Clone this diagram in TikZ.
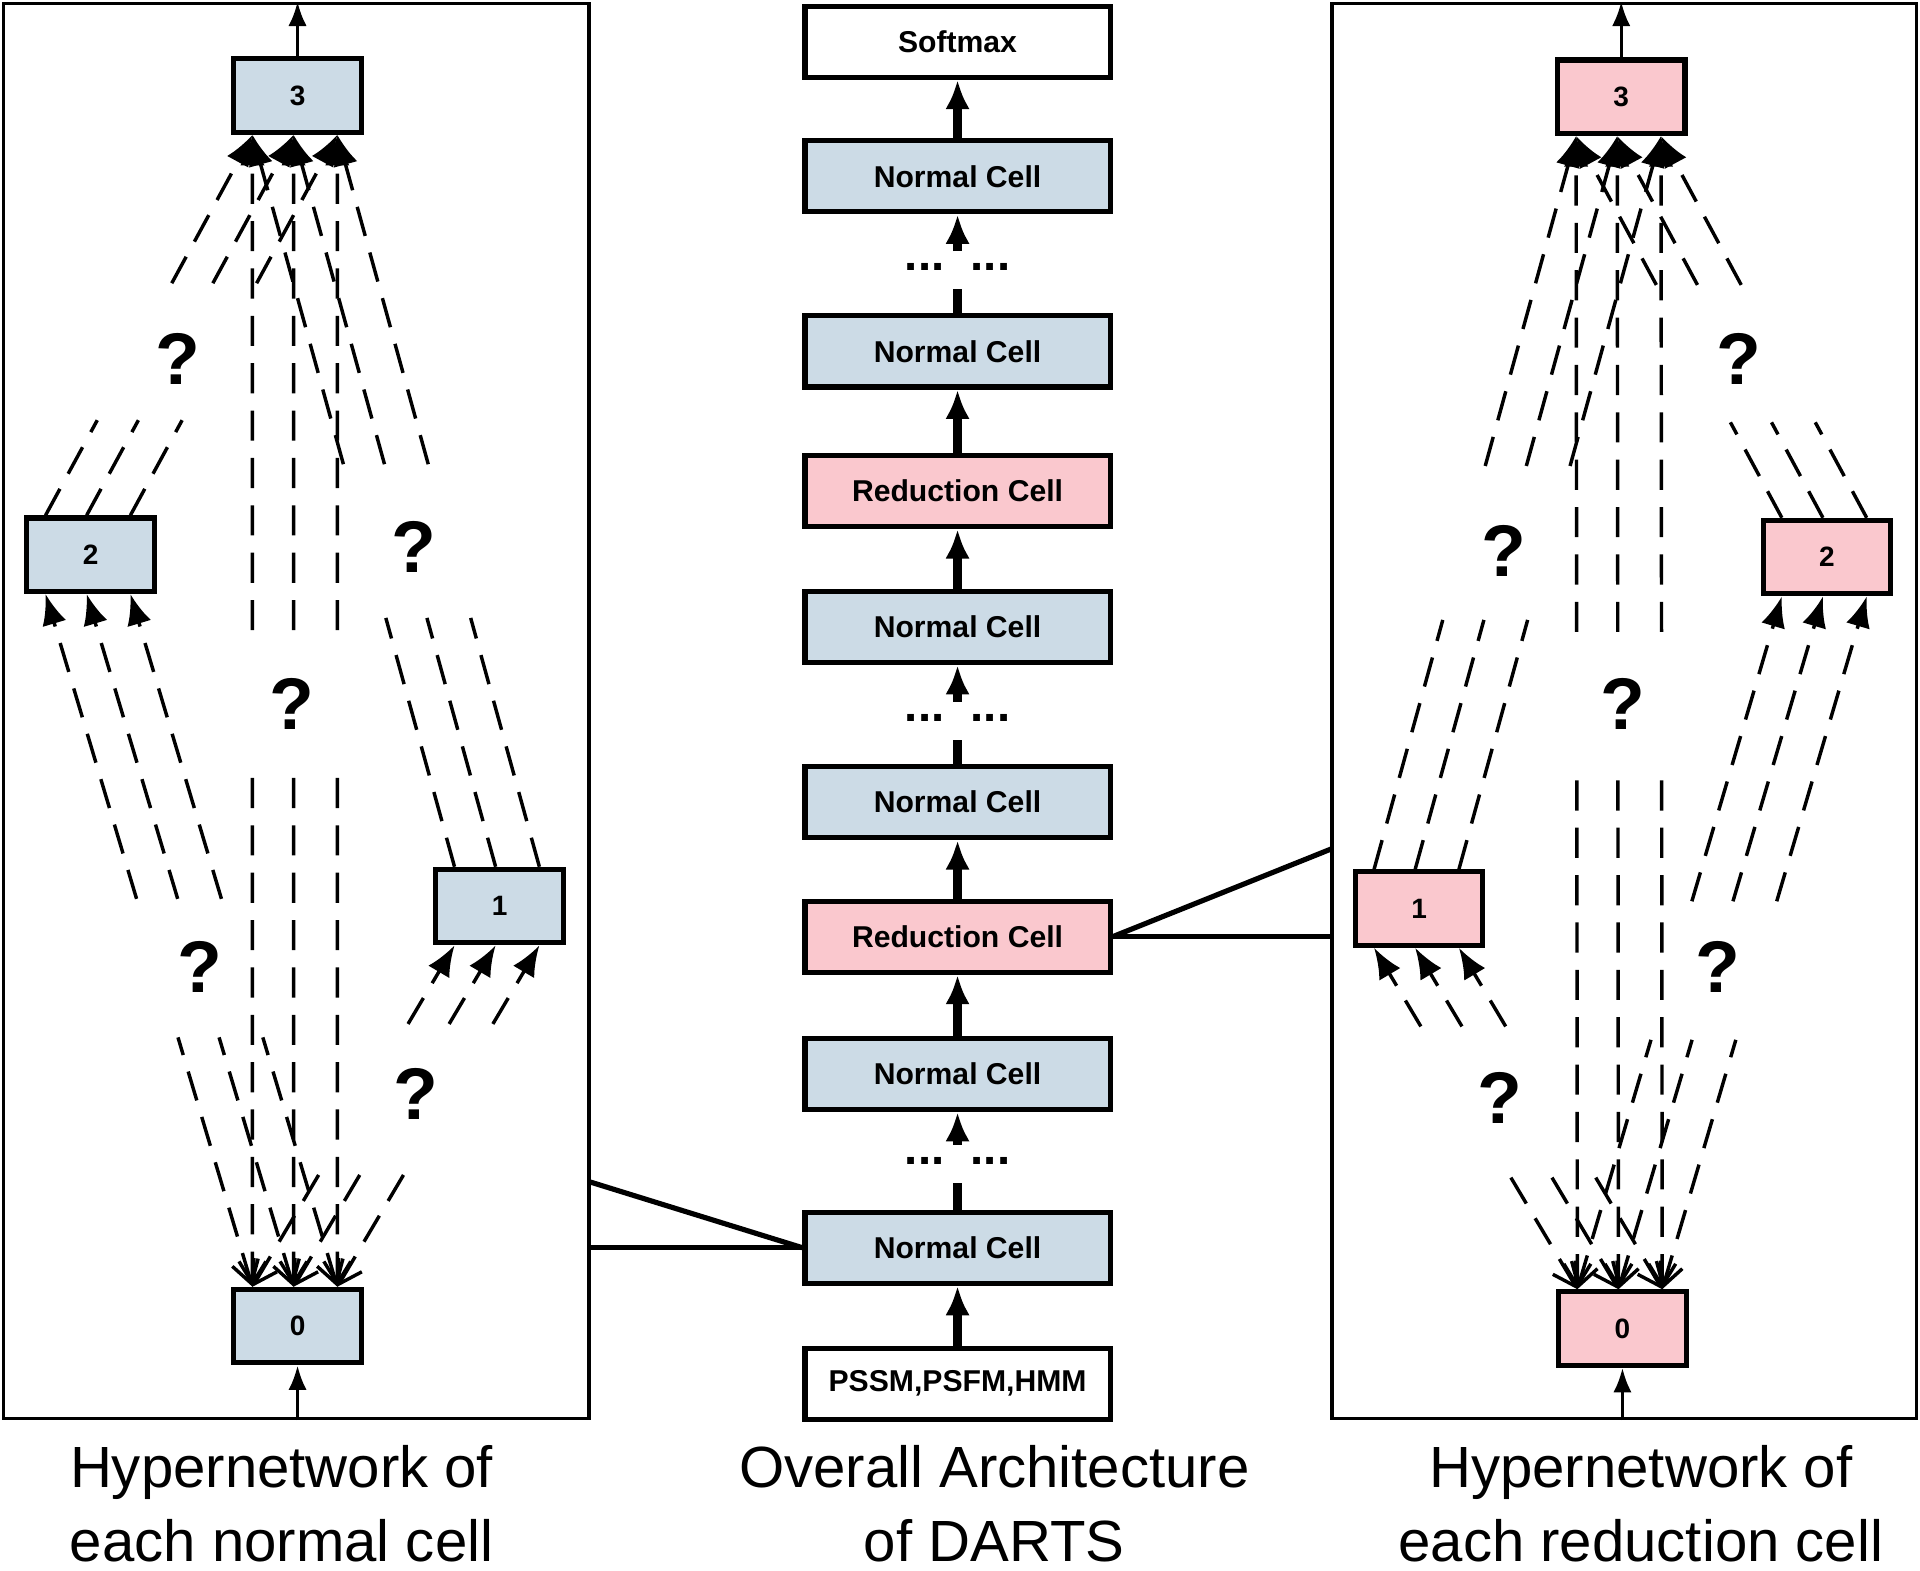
\documentclass[tikz,border=0pt]{standalone}
\usepackage{fontspec}
\setmainfont{Liberation Sans}
\usetikzlibrary{arrows.meta,calc}
\definecolor{normblue}{RGB}{204,219,230}
\definecolor{redpink}{RGB}{250,200,206}

\begin{document}
\begin{tikzpicture}[x=0.01cm,y=-0.01cm]
 \tikzstyle{cell}=[draw, very thick, minimum width=2.49cm, minimum height=0.58cm, inner sep=0pt, font=\fontsize{7}{8}\selectfont\bfseries]
 \tikzstyle{hnode}=[draw, very thick, minimum width=1.04cm, minimum height=0.6cm, inner sep=0pt, font=\fontsize{6.5}{8}\selectfont\bfseries]
 \tikzstyle{flow}=[-{Latex[length=2.4mm,width=2mm]}, line width=2.2pt]
 \tikzstyle{cand}=[dashed, dash pattern=on 7pt off 4pt, thick]
 \tikzstyle{qmark}=[font=\fontsize{17}{18}\selectfont\bfseries]
 \tikzstyle{dots}=[font=\fontsize{11}{12}\selectfont\bfseries]
 \tikzstyle{caption}=[align=center, font=\fontsize{13.5}{17}\selectfont]
 \useasboundingbox (0,0) rectangle (1568,1283);
 %
 % overall architecture
 \node[cell] (sm) at (782,34) {Softmax};
 \node[cell, fill=normblue] (n6) at (782,144) {Normal Cell};
 \node[cell, fill=normblue] (n5) at (782,287) {Normal Cell};
 \node[cell, fill=redpink] (r2) at (782,401) {Reduction Cell};
 \node[cell, fill=normblue] (n4) at (782,512) {Normal Cell};
 \node[cell, fill=normblue] (n3) at (782,655) {Normal Cell};
 \node[cell, fill=redpink] (r1) at (782,765) {Reduction Cell};
 \node[cell, fill=normblue] (n2) at (782,877) {Normal Cell};
 \node[cell, fill=normblue] (n1) at (782,1019) {Normal Cell};
 \node[cell] (in) at (782,1130) {PSSM,PSFM,HMM};
 \node[dots] (d3) at (782,218) {...\ \ ...};
 \node[dots] (d2) at (782,586) {...\ \ ...};
 \node[dots] (d1) at (782,948) {...\ \ ...};
 %%
 \draw[flow] (in)--(n1);
 \draw[line width=2.2pt] (n1.north)--(782,966);
 \draw[flow] (782,205)--(n6.south);
 \draw[flow] (n2)--(r1);
 \draw[flow] (r1)--(n3);
 \draw[line width=2.2pt] (n3.north)--(782,604);
 \draw[flow] (782,573)--(n4.south);
 \draw[flow] (n4)--(r2);
 \draw[flow] (r2)--(n5);
 \draw[line width=2.2pt] (n5.north)--(782,236);
 \draw[flow] (782,935)--(n2.south);
 \draw[flow] (n6)--(sm);
 %
 % hypernetwork frames
 \node[draw, thick, minimum width=4.78cm, minimum height=11.55cm, inner sep=0pt] (lbox) at (242,580.5) {};
 \node[draw, thick, minimum width=4.77cm, minimum height=11.55cm, inner sep=0pt] (rbox) at (1326.5,580.5) {};
 \coordinate (lzoom) at (481,965);
 \coordinate (rzoom) at (1088,693);
 \draw[line width=1.2pt] (n1.west)--(lzoom);
 \draw[line width=1.2pt] (n1.west)--(n1.west-|lbox.east);
 \draw[line width=1.2pt] (r1.east)--(rzoom);
 \draw[line width=1.2pt] (r1.east)--(r1.east-|rbox.west);
 %
 \node[hnode, fill=normblue] (L0) at (243,1083) {0};
 \node[hnode, fill=normblue] (L1) at (408,740) {1};
 \node[hnode, fill=normblue] (L2) at (74,453) {2};
 \node[hnode, fill=normblue] (L3) at (243,78) {3};
 \node[hnode, fill=redpink] (R0) at (1325,1085) {0};
 \node[hnode, fill=redpink] (R1) at (1159,742) {1};
 \node[hnode, fill=redpink] (R2) at (1492,455) {2};
 \node[hnode, fill=redpink] (R3) at (1324,79) {3};
 \foreach \n in {L0,L1,L2,L3,R0,R1,R2,R3}{
   \foreach \i/\f in {1/0.16,2/0.47,3/0.8}{
     \coordinate (\n t\i) at ($(\n.north west)!\f!(\n.north east)$);
     \coordinate (\n b\i) at ($(\n.south west)!\f!(\n.south east)$);
   }
 }
 %
 \draw[-{Latex[length=2mm]}, thick] (lbox.south-|L0)--(L0);
 \draw[-{Latex[length=2mm]}, thick] (L3)--(lbox.north-|L3);
 \draw[-{Latex[length=2mm]}, thick] (rbox.south-|R0)--(R0);
 \draw[-{Latex[length=2mm]}, thick] (R3)--(rbox.north-|R3);
 %
 % candidate operations, broken around the question mark
 \foreach \c in {L,R}{
   \foreach \s/\t/\ga/\gb in {0/1/0.37/0.77, 0/2/0.36/0.56, 0/3/0.45/0.57, 1/3/0.34/0.55, 2/3/0.25/0.61}{
     \foreach \i in {1,2,3}{
       \ifnum\s=0
         \draw[cand, {Straight Barb[length=1.8mm,width=2.2mm]}-] (\c\s t\i)--($(\c\s t\i)!\ga!(\c\t b\i)$);
       \else
         \draw[cand] (\c\s t\i)--($(\c\s t\i)!\ga!(\c\t b\i)$);
       \fi
       \draw[cand, -{Latex[length=2.5mm,width=2mm]}] ($(\c\s t\i)!\gb!(\c\t b\i)$)--(\c\t b\i);
     }
   }
 }
 %
 \node[qmark] (lq01) at (340,893) {?};
 \node[qmark] (lq02) at (163,790) {?};
 \node[qmark] (lq03) at (238,575) {?};
 \node[qmark] (lq13) at (338,447) {?};
 \node[qmark] (lq23) at (145,293) {?};
 \node[qmark] (rq01) at (1225,897) {?};
 \node[qmark] (rq02) at (1403,790) {?};
 \node[qmark] (rq03) at (1325,575) {?};
 \node[qmark] (rq13) at (1228,450) {?};
 \node[qmark] (rq23) at (1420,293) {?};
 %
 \node[caption] (lcap) at (230,1228) {Hypernetwork of\\each normal cell};
 \node[caption] (mcap) at (812,1228) {Overall Architecture\\of DARTS};
 \node[caption] (rcap) at (1340,1228) {Hypernetwork of\\each reduction cell};
\end{tikzpicture}
\end{document}
